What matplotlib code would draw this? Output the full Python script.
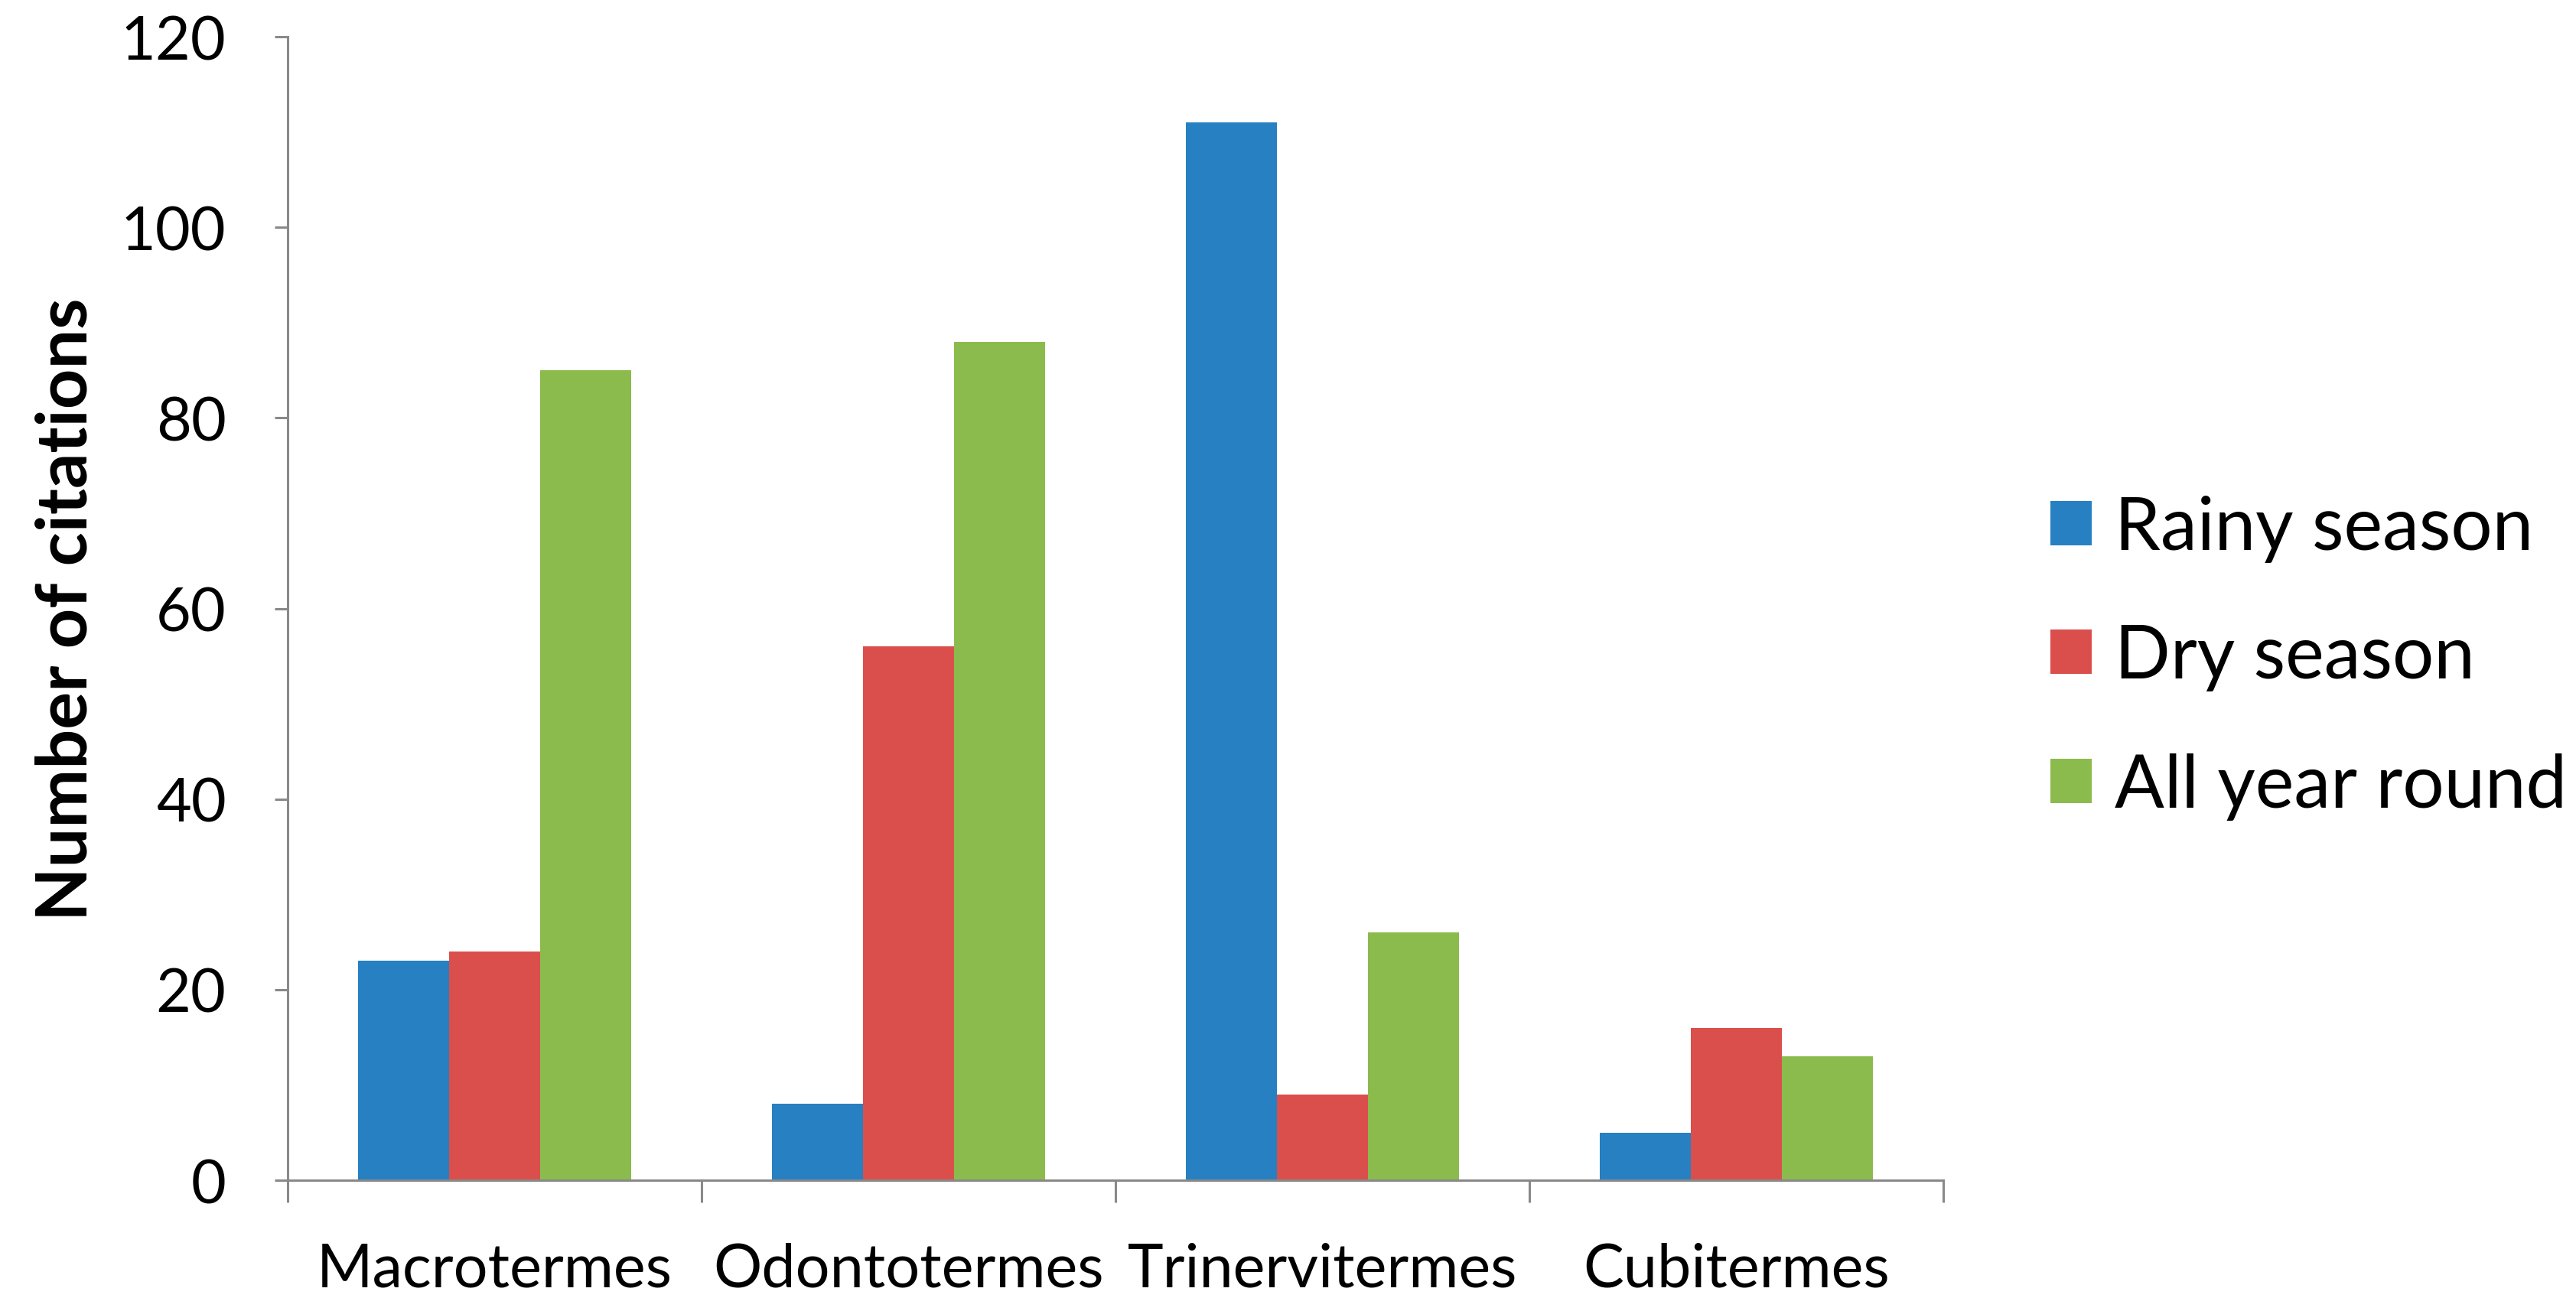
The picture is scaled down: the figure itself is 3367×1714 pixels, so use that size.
import matplotlib
matplotlib.use("Agg")
import matplotlib.pyplot as plt
import numpy as np

categories = ["Macrotermes", "Odontotermes", "Trinervitermes", "Cubitermes"]
series_names = ["Rainy season", "Dry season", "All year round"]
rainy = [23, 8, 111, 5]
dry = [24, 56, 9, 16]
all_year = [85, 88, 26, 13]
colors = ["#2680C2", "#DA4F4C", "#8CBB4D"]
yticks = [0, 20, 40, 60, 80, 100, 120]

plt.rcParams['font.family'] = ['Lato', 'DejaVu Sans']

fig = plt.figure(figsize=(33.67, 17.15), dpi=100)
ax = fig.add_axes([0.1117, 0.0997, 0.7544 - 0.1117, 0.9714 - 0.0997])

x = np.arange(len(categories))
w = 0.22
for i, (vals, name) in enumerate(zip([rainy, dry, all_year], series_names)):
    ax.bar(x + (i - 1) * w, vals, width=w, color=colors[i], label=name, zorder=2)

axis_col = "#898989"
ax.set_xlim(-0.5, len(categories) - 0.5)
ax.set_ylim(0, 120)
ax.set_yticks(yticks)
ax.set_yticklabels([str(t) for t in yticks])
ax.set_xticks(x)
ax.set_xticklabels(categories)
ax.set_xticks(np.arange(len(categories) + 1) - 0.5, minor=True)
ax.tick_params(axis='x', which='major', length=0, pad=58, labelsize=57)
ax.tick_params(axis='x', which='minor', length=21, width=2.2, color=axis_col, direction='out')
ax.tick_params(axis='y', which='major', length=12, width=2.2, color=axis_col, direction='out', pad=46, labelsize=57)
for s in ['top', 'right']:
    ax.spines[s].set_visible(False)
for s in ['left', 'bottom']:
    ax.spines[s].set_color(axis_col)
    ax.spines[s].set_linewidth(2.2)

ax.set_ylabel("Number of citations", fontsize=66, fontweight='bold')
ax.yaxis.set_label_coords(-0.114, 0.5)

fig.legend(loc='center left', bbox_to_anchor=(0.796, 0.4985), frameon=False,
           fontsize=69, handlelength=0.56, handleheight=0.56, handletextpad=0.31,
           labelspacing=0.84, borderpad=0, borderaxespad=0)

fig.savefig("out.png", dpi=100)
